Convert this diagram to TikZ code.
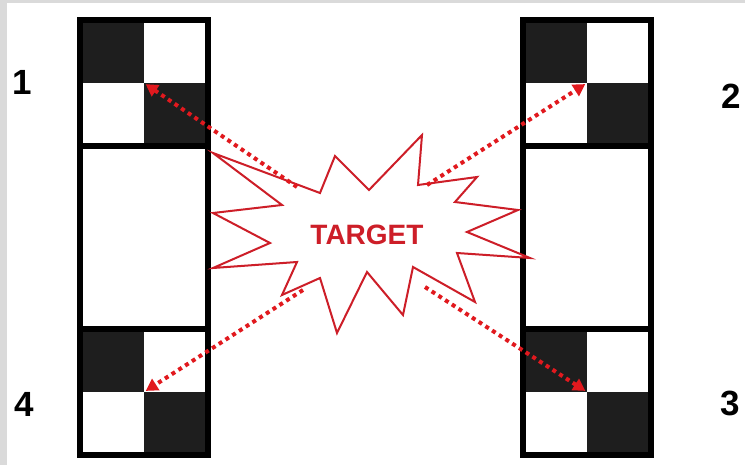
\documentclass[tikz,border=0pt]{standalone}
\usepackage{fontspec}
\setmainfont{Liberation Sans}
\usepackage{tikz}
\usetikzlibrary{arrows.meta}
\definecolor{tgtred}{RGB}{205,30,40}
\definecolor{dotred}{RGB}{225,25,30}
\definecolor{cellblack}{RGB}{30,30,30}
\definecolor{framegray}{RGB}{218,218,218}

\begin{document}
\begin{tikzpicture}[x=1pt,y=-1pt,
  bar/.style={draw=black,line width=6pt},
  cell/.style={fill=cellblack},
  num/.style={font=\fontsize{35}{35}\selectfont\bfseries,inner sep=0pt},
  burst/.style={draw=tgtred,line width=2pt,fill=white,line join=miter},
  ray/.style={draw=dotred,line width=4pt,dash pattern=on 4pt off 4pt,
    -{Triangle[length=12pt,width=13pt]},shorten >=2pt}]
\fill[framegray] (0,0) rectangle (745,465);
\fill[white] (7,3) rectangle (745,465);
\useasboundingbox (0,0) rectangle (745,465);
% the two bars with their checker targets
\foreach \bx/\side in {144/l,587/r}{
  \fill[cell] (\bx-61,23) rectangle (\bx,83);
  \fill[cell] (\bx,83) rectangle (\bx+61,143);
  \fill[cell] (\bx-61,332) rectangle (\bx,392);
  \fill[cell] (\bx,392) rectangle (\bx+61,452);
  \draw[bar] (\bx-64,20) rectangle (\bx+64,455);
  \draw[bar] (\bx-64,146) -- (\bx+64,146);
  \draw[bar] (\bx-64,329) -- (\bx+64,329);
  \coordinate (\side-up) at (\bx,83);
  \coordinate (\side-low) at (\bx,392);
}
\node[num] (n1) at (22,82) {1};
\node[num] (n2) at (731,96) {2};
\node[num] (n3) at (730,403) {3};
\node[num] (n4) at (24,404) {4};
% starburst
\draw[burst] (213,153) -- (320,193) -- (335,156) -- (369,190) -- (422,135)
  -- (418,185) -- (477,177) -- (455,202) -- (518,210) -- (467,232)
  -- (530,258) -- (457,253) -- (475,302) -- (413,267) -- (403,315)
  -- (367,272) -- (337,333) -- (320,278) -- (282,295) -- (297,262)
  -- (213,268) -- (270,243) -- (213,213) -- (282,205) -- cycle;
\node[text=tgtred,font=\fontsize{28}{28}\selectfont\bfseries] (target) at (367,235) {TARGET};
\coordinate (t1) at (297,187);
\coordinate (t2) at (427,185);
\coordinate (t3) at (425,287);
\coordinate (t4) at (303,290);
\draw[ray] (t1) -- (l-up);
\draw[ray] (t2) -- (r-up);
\draw[ray] (t3) -- (r-low);
\draw[ray] (t4) -- (l-low);
\end{tikzpicture}
\end{document}
